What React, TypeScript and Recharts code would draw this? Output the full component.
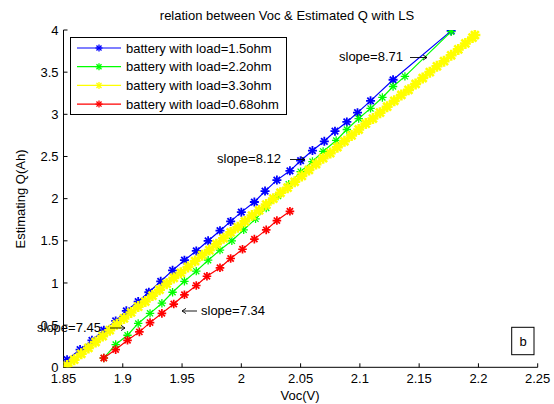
import { LineChart, Line, XAxis, YAxis } from "recharts"

const X_TICKS = [1.85, 1.9, 1.95, 2, 2.05, 2.1, 2.15, 2.2, 2.25]
const Y_TICKS = [0, 0.5, 1, 1.5, 2, 2.5, 3, 3.5, 4]

// load = 1.5 ohm
const VOC_15 = [1.853, 1.864, 1.874, 1.884, 1.894, 1.903, 1.913, 1.922, 1.932, 1.942, 1.952, 1.962, 1.972, 1.982, 1.991, 2.0, 2.011, 2.02, 2.03, 2.041, 2.05, 2.06, 2.07, 2.079, 2.089, 2.098, 2.109, 2.128, 2.177]
const Q_15 = [0.09, 0.21, 0.32, 0.44, 0.55, 0.67, 0.78, 0.89, 1.02, 1.15, 1.27, 1.38, 1.5, 1.62, 1.73, 1.84, 1.96, 2.09, 2.22, 2.33, 2.45, 2.57, 2.68, 2.8, 2.91, 3.02, 3.16, 3.41, 3.99]

// load = 2.2 ohm
const VOC_22 = [1.884, 1.894, 1.904, 1.913, 1.923, 1.933, 1.942, 1.952, 1.962, 1.972, 1.982, 1.992, 2.002, 2.012, 2.021, 2.031, 2.04, 2.05, 2.06, 2.069, 2.08, 2.089, 2.099, 2.109, 2.119, 2.128, 2.138, 2.177]
const Q_22 = [0.11, 0.27, 0.38, 0.52, 0.64, 0.76, 0.89, 1.02, 1.14, 1.27, 1.39, 1.5, 1.63, 1.76, 1.89, 2.03, 2.17, 2.32, 2.44, 2.56, 2.69, 2.82, 2.95, 3.07, 3.2, 3.33, 3.45, 3.98]

// load = 3.3 ohm
const VOC_33 = [1.853, 1.859, 1.865, 1.871, 1.877, 1.883, 1.889, 1.895, 1.901, 1.907, 1.913, 1.919, 1.925, 1.931, 1.937, 1.943, 1.949, 1.955, 1.961, 1.967, 1.973, 1.979, 1.985, 1.991, 1.997, 2.003, 2.009, 2.015, 2.021, 2.027, 2.033, 2.039, 2.045, 2.051, 2.057, 2.063, 2.069, 2.075, 2.081, 2.087, 2.093, 2.099, 2.105, 2.111, 2.117, 2.123, 2.129, 2.135, 2.141, 2.147, 2.153, 2.159, 2.165, 2.171, 2.177, 2.183, 2.189, 2.195, 2.197]
const Q_33 = [0.02, 0.09, 0.16, 0.23, 0.3, 0.37, 0.44, 0.51, 0.58, 0.65, 0.72, 0.78, 0.85, 0.92, 0.99, 1.06, 1.12, 1.19, 1.26, 1.33, 1.39, 1.46, 1.53, 1.6, 1.66, 1.73, 1.8, 1.86, 1.93, 2.0, 2.07, 2.13, 2.2, 2.27, 2.34, 2.41, 2.48, 2.54, 2.61, 2.68, 2.75, 2.82, 2.89, 2.95, 3.02, 3.09, 3.16, 3.23, 3.29, 3.36, 3.43, 3.5, 3.57, 3.63, 3.7, 3.77, 3.84, 3.91, 3.94]

// load = 0.68 ohm
const VOC_068 = [1.884, 1.894, 1.904, 1.914, 1.923, 1.933, 1.943, 1.952, 1.962, 1.971, 1.982, 1.991, 2.001, 2.011, 2.021, 2.03, 2.041]
const Q_068 = [0.11, 0.21, 0.32, 0.42, 0.53, 0.64, 0.75, 0.86, 0.97, 1.08, 1.18, 1.29, 1.4, 1.52, 1.63, 1.74, 1.85]

const SERIES = [
  { name: "battery with load=1.5ohm", voc: VOC_15, q: Q_15, color: "#0000ff", width: 1.2, r: 4.5, sw: 1.8 },
  { name: "battery with load=2.2ohm", voc: VOC_22, q: Q_22, color: "#00ff00", width: 1.2, r: 4.2, sw: 1.3 },
  { name: "battery with load=3.3ohm", voc: VOC_33, q: Q_33, color: "#ffff00", width: 4, r: 5.5, sw: 2.6 },
  { name: "battery with load=0.68ohm", voc: VOC_068, q: Q_068, color: "#ff0000", width: 1.2, r: 4.3, sw: 1.7 },
]

const FONT = "'Liberation Sans', Arial, sans-serif"

function Star({ cx, cy, r, color, sw }: { cx: number; cy: number; r: number; color: string; sw: number }) {
  const d = r * 0.72
  return (
    <g stroke={color} strokeWidth={sw}>
      <line x1={cx - r} y1={cy} x2={cx + r} y2={cy} />
      <line x1={cx} y1={cy - r} x2={cx} y2={cy + r} />
      <line x1={cx - d} y1={cy - d} x2={cx + d} y2={cy + d} />
      <line x1={cx - d} y1={cy + d} x2={cx + d} y2={cy - d} />
    </g>
  )
}

// thin TeX-style arrow, tip at (x2, y)
function Arrow({ x1, x2, y }: { x1: number; x2: number; y: number }) {
  const dir = x2 > x1 ? 1 : -1
  return (
    <g stroke="#000" strokeWidth={0.9} fill="none">
      <line x1={x1} y1={y} x2={x2} y2={y} />
      <path d={`M${x2 - dir * 4},${y - 2.6} L${x2},${y} L${x2 - dir * 4},${y + 2.6}`} />
    </g>
  )
}

export default function App() {
  const tickStyle = { fill: "#000", fontSize: 13, fontFamily: FONT }

  return (
    <div style={{ position: "absolute", left: 0, top: 0, width: 554, height: 404, background: "#fff" }}>
      <LineChart width={554} height={404} margin={{ top: 30, right: 16.3, bottom: 6.7, left: 23.5 }}>
        <XAxis
          type="number"
          dataKey="v"
          domain={[1.85, 2.25]}
          ticks={X_TICKS}
          interval={0}
          allowDataOverflow
          height={30}
          tick={tickStyle}
          tickSize={-4}
          tickMargin={10}
          stroke="#000"
        />
        <YAxis
          type="number"
          dataKey="q"
          domain={[0, 4]}
          ticks={Y_TICKS}
          interval={0}
          allowDataOverflow
          width={40}
          tick={tickStyle}
          tickSize={-4}
          tickMargin={9}
          stroke="#000"
        />
        {SERIES.map((s) => (
          <Line
            key={s.name}
            data={s.voc.map((v, i) => ({ v, q: s.q[i] }))}
            dataKey="q"
            type="linear"
            stroke={s.color}
            strokeWidth={s.width}
            isAnimationActive={false}
            dot={(p: any) => <Star key={`${s.name}-${p.index}`} cx={p.cx} cy={p.cy} r={s.r} color={s.color} sw={s.sw} />}
            activeDot={false}
          />
        ))}
      </LineChart>

      {/* title, axis titles, legend, annotations */}
      <svg width={554} height={404} style={{ position: "absolute", left: 0, top: 0, pointerEvents: "none" }} fontFamily={FONT} fontSize={13}>
        <text x={287} y={20} textAnchor="middle">relation between Voc &amp; Estimated Q with LS</text>
        <text x={300} y={400} textAnchor="middle">Voc(V)</text>
        <text x={25} y={199} textAnchor="middle" transform="rotate(-90 25 199)">Estimating Q(Ah)</text>

        <rect x={70.5} y={37.5} width={216} height={77} fill="#fff" stroke="#000" strokeWidth={1} />
        {SERIES.map((s, i) => {
          const y = 48 + i * 18.7
          return (
            <g key={s.name}>
              <line x1={77} y1={y} x2={121} y2={y} stroke={s.color} strokeWidth={1.2} />
              <Star cx={99} cy={y} r={3.5} color={s.color} sw={1.3} />
              <text x={126} y={y + 4.6}>{s.name}</text>
            </g>
          )
        })}

        <text x={339} y={60.5}>slope=8.71</text>
        <Arrow x1={410} x2={427} y={57.5} />
        <text x={217} y={163}>slope=8.12</text>
        <Arrow x1={290} x2={305} y={159.5} />
        <Arrow x1={197} x2={182} y={311} />
        <text x={201} y={315}>slope=7.34</text>
        <text x={37} y={331.5}>slope=7.45</text>
        <Arrow x1={110} x2={125} y={328} />

        <rect x={511.7} y={327.3} width={22.3} height={27.4} fill="#fff" stroke="#000" strokeWidth={1} />
        <text x={523} y={345.5} textAnchor="middle">b</text>
      </svg>
    </div>
  )
}
